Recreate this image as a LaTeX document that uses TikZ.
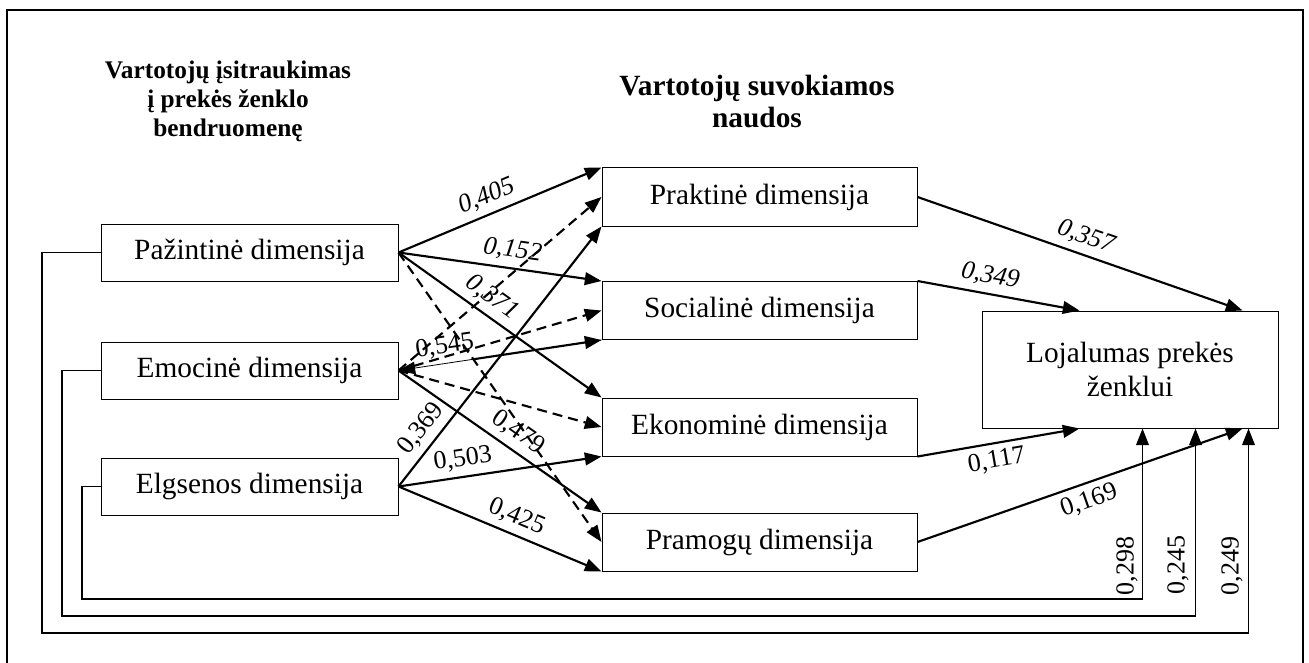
\documentclass[tikz,border=0pt]{standalone}
\usepackage{fontspec}
\setmainfont{Liberation Serif}
\usetikzlibrary{arrows.meta,calc}

\begin{document}
\begin{tikzpicture}[x=0.75pt,y=-0.75pt,
  box/.style={draw, line width=0.75pt, inner sep=0pt, font=\fontsize{22}{25}\selectfont},
  leftbox/.style={box, minimum width=222.75pt, minimum height=42.75pt},
  midbox/.style={box, minimum width=236.25pt, minimum height=43.5pt},
  tip/.style={-{Triangle[length=12.5pt,width=9.5pt]}},
  link/.style={tip, line width=1.6pt},
  nslink/.style={link, dash pattern=on 7.5pt off 4.5pt},
  backlink/.style={tip, line width=0.6pt},
  ret/.style={tip, line width=1.3pt},
  lab/.style={font=\fontsize{19.5}{21}\selectfont, inner sep=4.5pt},
  ilab/.style={lab, font=\fontsize{19.5}{21}\selectfont\itshape},
  head/.style={align=center, inner sep=0pt}]

\useasboundingbox (0,0) rectangle (1309,663);

% outer frame (open at the bottom)
\draw[line width=2pt] (7,663) -- (7,10) -- (1303,10) -- (1303,663);

% column headings
\node[head, font=\fontsize{19}{21.75}\selectfont\bfseries] (h1) at (228,101)
  {Vartotojų įsitraukimas\\į prekės ženklo\\bendruomenę};
\node[head, font=\fontsize{22}{24}\selectfont\bfseries] (h2) at (757,102)
  {Vartotojų suvokiamos\\naudos};

% engagement dimensions
\node[leftbox] (paz) at (249.5,252.5) {Pažintinė dimensija};
\node[leftbox] (emo) at (249.5,370.5) {Emocinė dimensija};
\node[leftbox] (elg) at (249.5,486.5) {Elgsenos dimensija};

% perceived benefits
\node[midbox] (prak) at (759.5,197)   {Praktinė dimensija};
\node[midbox] (soc)  at (759.5,310.5) {Socialinė dimensija};
\node[midbox] (eko)  at (759.5,427)   {Ekonominė dimensija};
\node[midbox] (pram) at (759.5,542)   {Pramogų dimensija};

% outcome
\node[box, minimum width=222pt, minimum height=87.75pt, align=center] (loj) at (1130,369.5)
  {Lojalumas prekės\\ženklui};

% docking points on the outcome box
\coordinate (lt1) at ($(loj.north west)+(98,0)$);
\coordinate (lt2) at ($(loj.north east)+(-36,0)$);
\coordinate (lb1) at ($(loj.south west)+(98,0)$);
\coordinate (lb2) at ($(loj.south east)+(-36,0)$);
\coordinate (lb3) at ($(loj.south west)+(161,0)$);
\coordinate (lb4) at ($(loj.south west)+(214,0)$);
\coordinate (lb5) at ($(loj.south west)+(267,0)$);

% cognitive dimension
\draw[link] (paz.east) -- node[ilab,sloped,above,pos=0.47]{0,405} (prak.north west);
\draw[link] (paz.east) -- node[ilab,sloped,above,pos=0.55]{0,152} (soc.north west);
\draw[link] (paz.east) -- node[ilab,sloped,above,pos=0.41]{0,371} (eko.north west);
\draw[nslink] (paz.east) -- (pram.west);

% emotional dimension
\draw[nslink] (emo.east) -- (prak.west);
\draw[nslink] (emo.east) -- (soc.west);
\draw[backlink] (soc.south west) -- node[lab,sloped,above,pos=0.76]{0,545} (emo.east);
\draw[link] ($(emo.east)!0.37!(soc.south west)$) -- (soc.south west);
\draw[nslink] (emo.east) -- (eko.west);
\draw[link] (emo.east) -- node[lab,sloped,above,pos=0.54]{0,479} (pram.north west);

% behavioural dimension
\draw[link] (elg.east) -- node[lab,sloped,above,pos=0.18]{0,369} (prak.south west);
\draw[link] (elg.east) -- node[lab,sloped,above,pos=0.33]{0,503} (eko.south west);
\draw[link] (elg.east) -- node[lab,sloped,above,pos=0.55]{0,425} (pram.south west);

% benefits to loyalty
\draw[link] (prak.east) -- node[ilab,sloped,above,pos=0.5]{0,357} (lt2);
\draw[link] (soc.north east) -- node[ilab,sloped,above,pos=0.43]{0,349} (lt1);
\draw[link] (eko.south east) -- node[lab,sloped,below,pos=0.47]{0,117} (lb1);
\draw[link] (pram.east) -- node[lab,sloped,below,pos=0.51]{0,169} (lb2);

% direct paths to loyalty
\coordinate (c1) at (42,633);
\coordinate (c2) at (62,616);
\coordinate (c3) at (82,599);
\draw[ret] (paz.west) -| (c1) -| (lb5);
\draw[ret] (emo.west) -| (c2) -| (lb4);
\draw[ret] (elg.west) -| (c3) -| (lb3);
\node[lab, rotate=90] (l298) at (1127,566) {0,298};
\node[lab, rotate=90] (l245) at (1178,565) {0,245};
\node[lab, rotate=90] (l249) at (1232,566) {0,249};

\end{tikzpicture}
\end{document}
